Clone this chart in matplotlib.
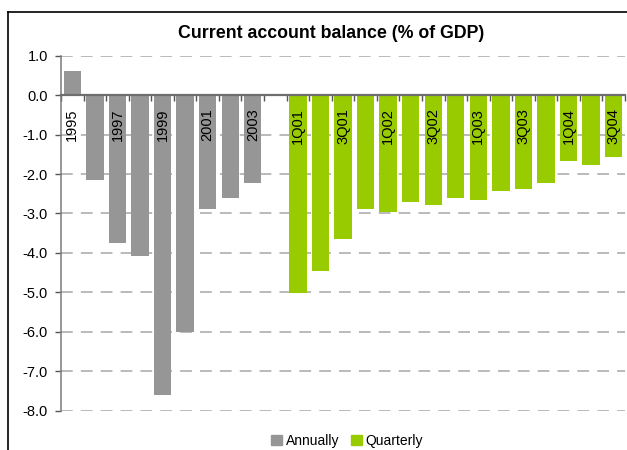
import matplotlib
matplotlib.use('Agg')
import matplotlib.pyplot as plt
from matplotlib.lines import Line2D
from matplotlib.patches import Patch

plt.rcParams['font.family'] = ['Liberation Sans', 'DejaVu Sans']

# current account balance, % of GDP
years = ['1995', '1996', '1997', '1998', '1999', '2000', '2001', '2002', '2003']
annual = [0.6, -2.15, -3.76, -4.09, -7.59, -6.0, -2.88, -2.62, -2.22]

quarters = ['1Q01', '2Q01', '3Q01', '4Q01', '1Q02', '2Q02', '3Q02', '4Q02',
            '1Q03', '2Q03', '3Q03', '4Q03', '1Q04', '2Q04', '3Q04']
quarterly = [-5.02, -4.47, -3.64, -2.88, -2.96, -2.71, -2.78, -2.62,
             -2.67, -2.42, -2.37, -2.22, -1.66, -1.76, -1.56]

yticks = [1.0, 0.0, -1.0, -2.0, -3.0, -4.0, -5.0, -6.0, -7.0, -8.0]

gray = '#969696'
green = '#99cc00'

x_annual = list(range(len(years)))
x_quarter = [len(years) + 1 + i for i in range(len(quarters))]
n_slots = len(years) + 1 + len(quarters)

fig = plt.figure(figsize=(6.27, 4.5), dpi=100)
ax = fig.add_axes([61 / 627, 1 - 410.7 / 450, 564 / 627, (410.7 - 55.7) / 450])

ax.bar(x_annual, annual, width=0.77, color=gray, zorder=2)
ax.bar(x_quarter, quarterly, width=0.77, color=green, zorder=2)

ax.set_xlim(-0.5, n_slots - 0.5)
ax.set_ylim(-8, 1)

ax.set_yticks(yticks)
ax.set_yticklabels(['%.1f' % v for v in yticks], fontsize=10.5)
ax.yaxis.grid(True, color='#b4b4b4', linewidth=1.3, linestyle=(0, (6.5, 4.5)), zorder=0)
ax.set_axisbelow(True)

# category boundary ticks on the zero line
ax.set_xticks([i - 0.5 for i in range(n_slots + 1)])
ax.set_xticklabels([])
ax.spines['bottom'].set_position(('data', 0))
ax.spines['bottom'].set_color('#6e6e6e')
ax.spines['bottom'].set_linewidth(1.6)
ax.spines['bottom'].set_zorder(3)
ax.spines['left'].set_color('#7a7a7a')
ax.spines['left'].set_linewidth(1.1)
ax.spines['top'].set_visible(False)
ax.spines['right'].set_visible(False)
ax.tick_params(axis='x', direction='out', length=4, width=1, color='#555555')
ax.tick_params(axis='y', direction='out', length=4.5, width=1, color='#555555', pad=5)

# every other label, vertical, just under the zero line
for xs, labels in ((x_annual, years), (x_quarter, quarters)):
    for i, (xp, lab) in enumerate(zip(xs, labels)):
        if i % 2 == 0:
            ax.annotate(lab, xy=(xp, 0), xytext=(0, -9.5), textcoords='offset points',
                        rotation=90, ha='center', va='top', fontsize=10.5, zorder=4)

fig.text(331 / 627, 1 - 33 / 450, 'Current account balance (% of GDP)',
         ha='center', va='center', fontsize=12.8, fontweight='bold')

handles = [Patch(color=gray, label='Annually'), Patch(color=green, label='Quarterly')]
fig.legend(handles=handles, loc='center', bbox_to_anchor=(347 / 627, 1 - 441 / 450),
           ncol=2, frameon=False, fontsize=10, handlelength=0.8, handleheight=0.8,
           handletextpad=0.3, columnspacing=0.8, borderaxespad=0)

# outer chart frame (top and left edges)
fig.add_artist(Line2D([8 / 627, 8 / 627], [0, 1 - 12 / 450], transform=fig.transFigure,
                      color='black', linewidth=1.2))
fig.add_artist(Line2D([8 / 627, 1], [1 - 12 / 450, 1 - 12 / 450], transform=fig.transFigure,
                      color='black', linewidth=1.2))

fig.savefig('out.png', dpi=100)
